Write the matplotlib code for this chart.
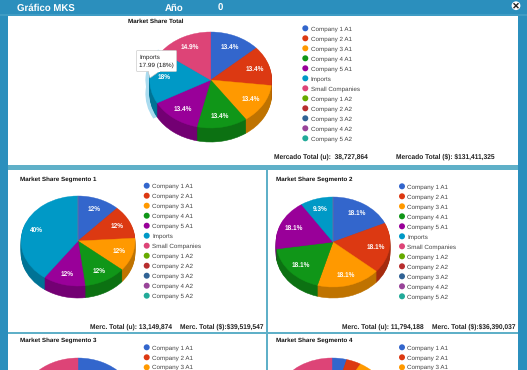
import matplotlib
matplotlib.use('Agg')
import matplotlib.pyplot as plt
from matplotlib.colors import to_rgb
from matplotlib.patches import Rectangle, Circle, Polygon, FancyBboxPatch

plt.rcParams['font.family'] = ['Liberation Sans', 'DejaVu Sans']
plt.rcParams['text.hinting'] = 'no_hinting'

W, H = 527, 370

empresas = ['Company 1 A1', 'Company 2 A1', 'Company 3 A1', 'Company 4 A1', 'Company 5 A1', 'Imports',
            'Small Companies', 'Company 1 A2', 'Company 2 A2', 'Company 3 A2', 'Company 4 A2', 'Company 5 A2']
colores = ['#3366cc', '#dc3912', '#ff9900', '#109618', '#990099', '#0099c6',
           '#dd4477', '#66aa00', '#b82e2e', '#316395', '#994499', '#22aa99']

total = [13.4, 13.4, 13.4, 13.4, 13.4, 18, 14.9]
seg1 = [12, 12, 12, 12, 12, 40, 0]
seg2 = [18.1, 18.1, 18.1, 18.1, 18.1, 9.3, 0]
seg3 = [14, 13, 13, 13, 13, 10, 24]  # estimated, mostly cut off by the picture
seg4 = [4, 4, 4, 4, 4, 4, 72]  # estimated too

AZUL = '#2b8fbd'
TEAL = '#5fb0c8'


def ejes_px(x, y, w, h):
    # axes from pixel box, y from the top
    ax = plt.gcf().add_axes([x / W, 1 - (y + h) / H, w / W, h / H])
    ax.patch.set_alpha(0)
    ax.axis('off')
    return ax


def oscuro(c, f=0.75):
    return tuple(v * f for v in to_rgb(c))


def etiqueta(pct):
    return f"{round(pct, 1):g}%"


def sin_juntas(wedges, lw):
    # same colour edge so no white seams between slices
    for w in wedges:
        w.set_edgecolor(w.get_facecolor())
        w.set_linewidth(lw)


def pastel(valores, cx, cy, rx, ry, prof, halo=None, rotulos=True):
    d = prof / ry
    ax = ejes_px(cx - 1.1 * rx, cy - 1.1 * ry, 2.2 * rx, (2.2 + d) * ry)
    cols = colores[:len(valores)]
    if halo is not None:
        cols_halo = ['none'] * len(valores)
        cols_halo[halo] = '#a9dbef'
        for capa in (prof, 0):
            ax.pie(valores, colors=cols_halo, startangle=90, counterclock=False,
                   center=(0, -capa / ry), radius=1.07, wedgeprops={'linewidth': 0})
    for capa in range(prof, 0, -1):
        w = ax.pie(valores, colors=[oscuro(c) for c in cols], startangle=90, counterclock=False,
                   center=(0, -capa / ry))[0]
        sin_juntas(w, 0.4)
    if rotulos:
        res = ax.pie(valores, colors=cols, startangle=90, counterclock=False, autopct=etiqueta, pctdistance=0.76,
                     textprops={'color': 'white', 'fontsize': 4.7, 'fontweight': 'bold'})
        # a slice of zero still gets a label from autopct
        for v, t in zip(valores, res[2]):
            if v == 0:
                t.set_visible(False)
    else:
        # lower pies: their labels fall below the edge of the picture
        res = ax.pie(valores, colors=cols, startangle=90, counterclock=False)
    sin_juntas(res[0], 0.3)
    ax.set_aspect('auto')
    ax.set_xlim(-1.1, 1.1)
    ax.set_ylim(-1.1 - d, 1.1)


fig = plt.figure(figsize=(W / 100, H / 100), dpi=100, facecolor=AZUL)

# fondo
fondo = ejes_px(0, 0, W, H)
fondo.set_xlim(0, W)
fondo.set_ylim(H, 0)
fondo.add_patch(Rectangle((7.5, 15), 510.5, 355, color=TEAL, lw=0))
fondo.add_patch(Rectangle((0, 14), W, 2, color='#3f9cc4', lw=0))
for x, y, w, h in [(7.5, 16, 510.5, 149), (7.5, 170, 258.5, 162), (268, 170, 250, 162),
                   (7.5, 334, 258.5, 40), (268, 334, 250, 40)]:
    fondo.add_patch(Rectangle((x, y), w, h, color='white', lw=0))

pastel(total, 210.7, 80, 61, 48, 14, halo=5)
pastel(seg1, 78, 241, 57, 45, 12)
pastel(seg2, 333, 242, 57, 45, 11)
pastel(seg3, 78, 403, 57, 45, 12, rotulos=False)
pastel(seg4, 332, 403, 57, 45, 12, rotulos=False)

top = ejes_px(0, 0, W, H)
top.set_xlim(0, W)
top.set_ylim(H, 0)

# cabecera
for txt, x in [('Gráfico MKS', 17), ('Año', 165), ('0', 218)]:
    top.text(x, 11, txt, color='white', fontsize=6.9, fontweight='bold', va='baseline')
top.add_patch(Circle((516, 5.7), 4.4, color='white', lw=0))
top.plot([514, 518], [3.7, 7.7], color='#222222', lw=1)
top.plot([514, 518], [7.7, 3.7], color='#222222', lw=1)

# titulos
titulos = ['Market Share Total', 'Market Share Segmento 1', 'Market Share Segmento 2',
           'Market Share Segmento 3', 'Market Share Segmento 4']
pos_titulo = [(127.7, 21), (20.5, 178.5), (275.7, 179), (20.5, 340), (275.7, 340)]
for t, (x, y) in zip(titulos, pos_titulo):
    top.text(x, y, t, fontsize=4.5, fontweight='bold', color='#111111', va='center_baseline')

# leyendas, the lower two only show three rows before the picture ends
pos_leyenda = [(305.3, 28.3, 12), (146.7, 185.7, 12), (402, 186.3, 12), (146.7, 347.3, 3), (402, 347.3, 3)]
for lx, ly, filas in pos_leyenda:
    for i, (nombre, c) in enumerate(zip(empresas[:filas], colores[:filas])):
        y = ly + i * 10
        top.add_patch(Circle((lx, y), 3, color=c, lw=0))
        top.text(lx + 5.4, min(y, 366.6), nombre, fontsize=4.5, color='#444444', va='center_baseline')

# totales
pies = [(274, 156, 'Mercado Total (u):  38,727,864'), (396, 156, 'Mercado Total ($): $131,411,325'),
        (90, 325.7, 'Merc. Total (u): 13,149,874'), (180, 325.7, 'Merc. Total ($):$39,519,547'),
        (342, 325.7, 'Merc. Total (u): 11,794,188'), (432, 325.7, 'Merc. Total ($):$36,390,037')]
for x, y, t in pies:
    top.text(x, y, t, fontsize=4.8, fontweight='bold', color='#222222', va='center_baseline', parse_math=False)

# tooltip
top.add_patch(Polygon([(148, 71), (150, 78), (160, 71)], closed=True, facecolor='white', edgecolor='#bbbbbb', lw=0.4))
top.add_patch(FancyBboxPatch((136.5, 50.5), 40, 21, boxstyle='round,pad=0,rounding_size=1',
                             facecolor='white', edgecolor='#cccccc', lw=0.5))
top.add_patch(Rectangle((148.5, 70), 11, 1.6, color='white', lw=0))
top.text(139, 57, 'Imports', fontsize=4.5, color='#222222', va='center_baseline')
top.text(139, 65, '17.99 (18%)', fontsize=4.6, color='#111111', va='center_baseline')

plt.savefig('out.png', dpi=100, facecolor=fig.get_facecolor())
